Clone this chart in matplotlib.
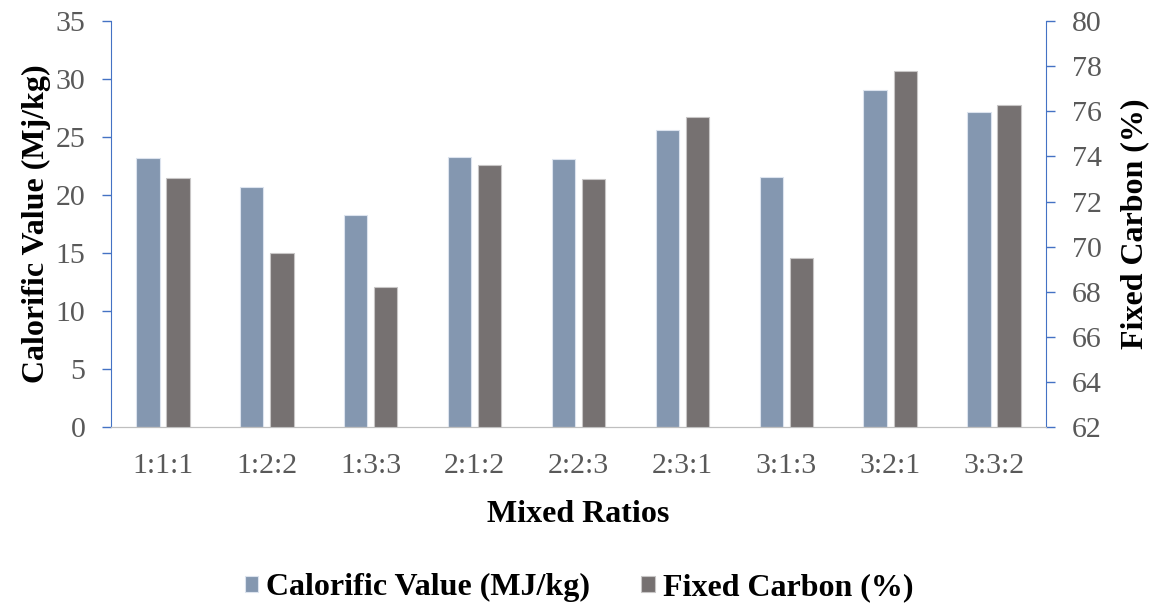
import matplotlib.pyplot as plt
import numpy as np

ratios = ["1:1:1", "1:2:2", "1:3:3", "2:1:2", "2:2:3", "2:3:1", "3:1:3", "3:2:1", "3:3:2"]
calorific = [23.2, 20.7, 18.3, 23.3, 23.1, 25.6, 21.55, 29.05, 27.15]
fixed_carbon = [73.05, 69.7, 68.2, 73.6, 73.0, 75.75, 69.5, 77.8, 76.3]

plt.rcParams['font.family'] = ['Liberation Serif', 'DejaVu Serif']

blue = "#8497B0"
grey = "#767171"
axis_blue = "#4472C4"
tick_grey = "#595959"

fig = plt.figure(figsize=(11.51, 6.04), dpi=100)
ax = fig.add_axes([0.0964, 0.293, 0.8124, 0.672])
ax2 = ax.twinx()

x = np.arange(len(ratios))
w = 0.225
off = 0.145
b1 = ax.bar(x - off, calorific, w, color=blue, edgecolor="#DCE3EE", linewidth=0.8,
            label="Calorific Value (MJ/kg)")
b2 = ax2.bar(x + off, fixed_carbon, w, color=grey, edgecolor="#C8C6C6", linewidth=0.8,
             label="Fixed Carbon (%)")

ax.set_xlim(-0.5, len(ratios) - 0.5)
ax.set_ylim(0, 35)
ax.set_yticks(range(0, 36, 5))
ax2.set_ylim(62, 80)
ax2.set_yticks(range(62, 81, 2))

ax.set_xticks(x)
ax.set_xticklabels(ratios)

for a in (ax, ax2):
    a.spines['top'].set_visible(False)
    a.spines['left'].set_color(axis_blue)
    a.spines['right'].set_color(axis_blue)
    a.spines['bottom'].set_color("#BFBFBF")
    a.tick_params(axis='y', colors=tick_grey, labelsize=21.5, length=6.5, width=1,
                  color=axis_blue, direction='out', pad=12)
ax.spines['right'].set_visible(False)
ax2.spines['left'].set_visible(False)
ax.tick_params(axis='x', length=0, labelsize=21.5, colors=tick_grey, pad=19)

ax.set_ylabel("Calorific Value (Mj/kg)", fontsize=23, fontweight='bold', labelpad=3)
ax2.set_ylabel("Fixed Carbon (%)", fontsize=23, fontweight='bold', labelpad=13.5)
ax.set_xlabel("Mixed Ratios", fontsize=23, fontweight='bold', labelpad=15)

fig.legend(handles=[b1, b2], loc='lower center', ncol=2, frameon=False,
           bbox_to_anchor=(0.503, -0.045), prop={'size': 23, 'weight': 'bold'},
           handlelength=0.42, handleheight=0.42, columnspacing=1.6, handletextpad=0.25)

fig.savefig("out.png", dpi=100)
